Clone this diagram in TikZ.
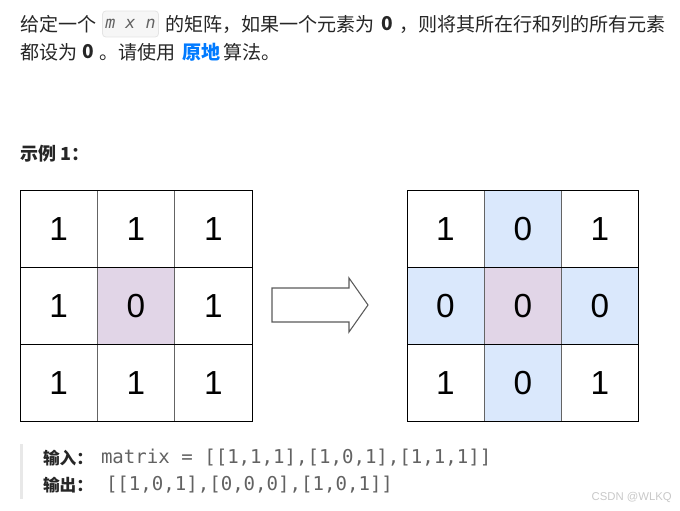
\documentclass[tikz,border=0pt]{standalone}
\usepackage{fontspec}
\setmainfont{Liberation Sans}
\newfontfamily\cjk{Noto Sans CJK SC}
\newfontfamily\digitfont{Liberation Sans}
\newfontfamily\codefont{DejaVu Sans Mono}
\definecolor{tc}{RGB}{38,38,38}
\definecolor{blueone}{RGB}{0,122,255}
\definecolor{lilac}{RGB}{225,213,231}
\definecolor{lblue}{RGB}{218,232,252}
\definecolor{cbg}{RGB}{246,246,246}
\definecolor{cbd}{RGB}{228,228,228}
\definecolor{codegray}{RGB}{98,98,98}
\definecolor{barc}{RGB}{232,232,232}
\definecolor{wm}{RGB}{200,200,200}
\definecolor{vline}{RGB}{100,100,100}
\definecolor{arrowc}{RGB}{90,90,90}
\tikzset{
  txt/.style={inner sep=0pt,outer sep=0pt,text=tc,anchor=west,font=\cjk\fontsize{14.3}{17}\selectfont},
  codebox/.style={inner sep=0pt,minimum width=42pt,minimum height=19.5pt,rounded corners=2.5pt,fill=cbg,draw=cbd,line width=0.6pt,text=codegray,font=\codefont\itshape\fontsize{12.5}{14}\selectfont},
  cell/.style={inner sep=0pt,minimum width=57.8pt,minimum height=57.8pt,font=\digitfont\fontsize{25}{28}\selectfont,text=black},
  hline/.style={line width=0.7pt,draw=black},
  vinner/.style={line width=0.9pt,draw=vline},
  bigarrow/.style={draw=arrowc,line width=0.8pt,fill=white,line join=miter},
  lab/.style={inner sep=0pt,outer sep=0pt,text=tc,anchor=west,font=\cjk\bfseries\fontsize{12.5}{14}\selectfont},
  code/.style={inner sep=0pt,outer sep=0pt,text=codegray,anchor=west,font=\codefont\fontsize{14.3}{16}\selectfont},
}
\begin{document}
\begin{tikzpicture}[x=0.75pt,y=-0.75pt]
\useasboundingbox (0,0) rectangle (680,510);
% text line 1
\node[txt] (t1a) at (20,24) {给定一个};
\node[codebox] (mxn) at (130.5,24) {m x n};
\node[txt] (t1b) at (165,24) {的矩阵，如果一个元素为};
\node[txt,anchor=center] (z1) at (387,24) {\textbf{0}};
\node[txt,anchor=east] (t1c) at (666,24) {，则将其所在行和列的所有元素};
% text line 2
\node[txt] (t2a) at (20,52) {都设为};
\node[txt,anchor=center] (z2) at (88,52) {\textbf{0}};
\node[txt] (t2b) at (99,52) {。请使用};
\node[txt,text=blueone] (t2c) at (182,52) {\textbf{原地}};
\node[txt] (t2d) at (223,52) {算法。};
\node[txt,font=\cjk\bfseries\fontsize{13.5}{15}\selectfont] (ex) at (20,154) {示例 1：};
% left grid
\node[cell] (L11) at (58.7,228.7) {1};
\node[cell] (L12) at (136,228.7) {1};
\node[cell] (L13) at (213.3,228.7) {1};
\node[cell] (L21) at (58.7,306) {1};
\node[cell,fill=lilac] (L22) at (136,306) {0};
\node[cell] (L23) at (213.3,306) {1};
\node[cell] (L31) at (58.7,383.3) {1};
\node[cell] (L32) at (136,383.3) {1};
\node[cell] (L33) at (213.3,383.3) {1};
\draw[vinner] (97.3,190) -- (97.3,421);
\draw[vinner] (174.7,190) -- (174.7,421);
\draw[hline] (20,267.3) -- (252,267.3);
\draw[hline] (20,344.7) -- (252,344.7);
\draw[hline] (20,190) rectangle (252,421);
% arrow
\draw[bigarrow] (272,288) -- (349,288) -- (349,278) -- (368,305) -- (349,332) -- (349,322) -- (272,322) -- cycle;
% right grid
\node[cell] (R11) at (445.5,228.7) {1};
\node[cell,fill=lblue] (R12) at (522.8,228.7) {0};
\node[cell] (R13) at (600,228.7) {1};
\node[cell,fill=lblue] (R21) at (445.5,306) {0};
\node[cell,fill=lilac] (R22) at (522.8,306) {0};
\node[cell,fill=lblue] (R23) at (600,306) {0};
\node[cell] (R31) at (445.5,383.3) {1};
\node[cell,fill=lblue] (R32) at (522.8,383.3) {0};
\node[cell] (R33) at (600,383.3) {1};
\draw[vinner] (484.2,190) -- (484.2,421);
\draw[vinner] (561.5,190) -- (561.5,421);
\draw[hline] (407,267.3) -- (638,267.3);
\draw[hline] (407,344.7) -- (638,344.7);
\draw[hline] (407,190) rectangle (638,421);
% code block
\fill[barc] (20,444) rectangle (23,499);
\node[lab] (in) at (43,458) {输入：};
\node[code] (inc) at (101,458) {matrix = [[1,1,1],[1,0,1],[1,1,1]]};
\node[lab] (out) at (43,485) {输出：};
\node[code] (outc) at (106,485) {[[1,0,1],[0,0,0],[1,0,1]]};
\node[inner sep=0pt,anchor=east,text=wm,font=\fontsize{8.5}{10}\selectfont] (wmk) at (672,497) {CSDN @WLKQ};
\end{tikzpicture}
\end{document}
